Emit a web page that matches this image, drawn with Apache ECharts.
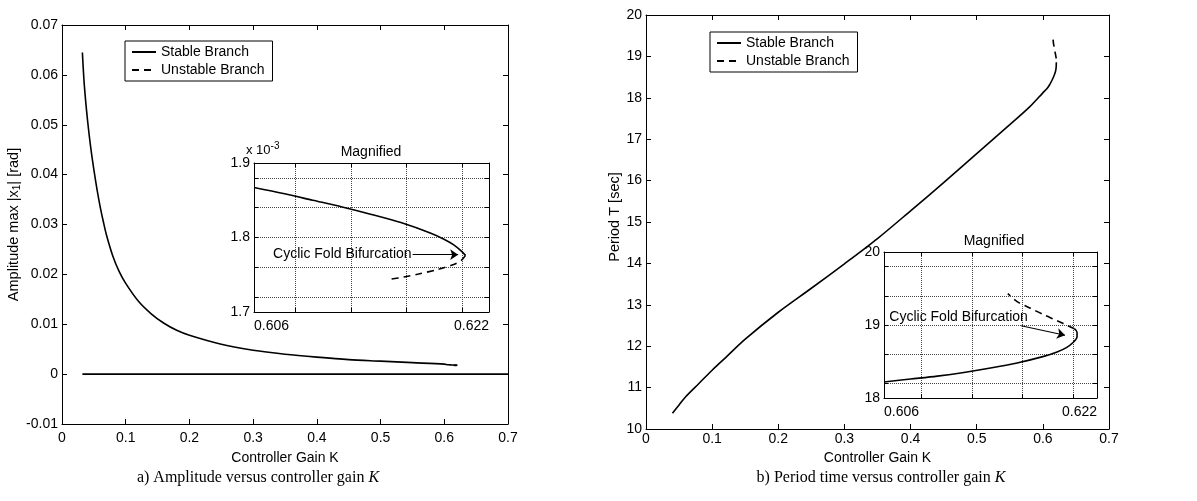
<!DOCTYPE html>
<html>
<head>
<meta charset="utf-8">
<title>Cyclic fold bifurcation: amplitude and period versus controller gain K</title>
<script src="https://cdn.jsdelivr.net/npm/echarts@6/dist/echarts.min.js"></script>
<style>
  html, body { margin: 0; padding: 0; background: #fff; }
  #chart { width: 1197px; height: 501px; }
</style>
</head>
<body>
<div id="chart"></div>
<script>
// a) amplitude max|x1| [rad] versus controller gain K
var ampK      = [0.032, 0.035, 0.04, 0.045, 0.05, 0.055, 0.06, 0.065, 0.07, 0.08, 0.09, 0.10, 0.12, 0.14, 0.16, 0.18, 0.20, 0.25, 0.30, 0.35, 0.40, 0.45, 0.50, 0.55, 0.60, 0.606, 0.612, 0.618, 0.6204];
var ampStable = [0.0645, 0.058, 0.051, 0.0455, 0.041, 0.037, 0.0335, 0.0305, 0.0278, 0.0236, 0.0205, 0.0182, 0.0146, 0.0121, 0.0102, 0.0088, 0.0078, 0.0060, 0.0048, 0.0040, 0.0034, 0.0029, 0.0026, 0.0023, 0.0020, 0.00187, 0.00184, 0.00180, 0.00177];
var trivialK   = [0.032, 0.7];
var trivialAmp = [0, 0];

// magnified amplitude near the fold, in units of 1e-3 rad
var magAmpK  = [0.606, 0.608, 0.610, 0.612, 0.614, 0.616, 0.618, 0.619, 0.6196, 0.6201, 0.6204];
var magAmp   = [1.867, 1.859, 1.850, 1.841, 1.831, 1.820, 1.806, 1.797, 1.790, 1.782, 1.776];
var magAmpUK = [0.6204, 0.6201, 0.6195, 0.6185, 0.6172, 0.6162, 0.6153];
var magAmpU  = [1.776, 1.769, 1.763, 1.757, 1.751, 1.747, 1.744];

// b) period T [sec] versus controller gain K
var perK      = [0.04, 0.05, 0.06, 0.08, 0.10, 0.12, 0.15, 0.20, 0.25, 0.30, 0.35, 0.40, 0.45, 0.50, 0.55, 0.58, 0.60, 0.606, 0.610, 0.614, 0.617, 0.619, 0.6200, 0.6204];
var perStable = [10.38, 10.58, 10.78, 11.10, 11.42, 11.72, 12.17, 12.82, 13.40, 13.99, 14.60, 15.27, 15.95, 16.65, 17.35, 17.78, 18.12, 18.22, 18.31, 18.43, 18.54, 18.63, 18.72, 18.86];

// magnified period near the fold
var magPerK  = [0.606, 0.608, 0.610, 0.612, 0.614, 0.616, 0.618, 0.619, 0.6197, 0.6202, 0.6205, 0.6205, 0.6203];
var magPer   = [18.22, 18.26, 18.30, 18.35, 18.41, 18.48, 18.57, 18.63, 18.69, 18.76, 18.84, 18.90, 18.95];
var magPerUK = [0.6203, 0.6198, 0.619, 0.618, 0.617, 0.616, 0.6153];
var magPerU  = [18.95, 18.99, 19.06, 19.14, 19.23, 19.32, 19.43];

// tick labels and dotted grid of the magnified boxes
var magKLabels   = [0.606, 0.622];
var magKGrid     = [0.6088, 0.6126, 0.6164, 0.6202];
var magAmpLabels = [1.7, 1.8, 1.9];
var magAmpGrid   = [1.72, 1.76, 1.80, 1.84, 1.88];
var magPerLabels = [18, 19, 20];
var magPerGrid   = [18.2, 18.6, 19.0, 19.4, 19.8];

// "Cyclic Fold Bifurcation" notes: text start, arrow start, arrow tip
var ampNote = [[0.6073, 1.777], [0.6168, 1.777], [0.6199, 1.777]];
var perNote = [[0.6064, 19.11], [0.6163, 18.99], [0.6196, 18.86]];

var font = '"Liberation Sans", Arial, Helvetica, sans-serif';
var serif = '"Liberation Serif", "Times New Roman", serif';

function pts(xs, ys, scale) {
  return xs.map(function (x, i) { return [x, ys[i] * (scale || 1)]; });
}

function mainAxis(grid, pos, min, max, step, labelMargin) {
  var shown = (pos === 'bottom' || pos === 'left');
  return {
    type: 'value', gridIndex: grid, position: pos,
    min: min, max: max, interval: step,
    axisLine: { show: true, onZero: false, lineStyle: { color: '#000', width: 1 } },
    axisTick: { show: true, inside: true, length: 5, lineStyle: { color: '#000' } },
    axisLabel: { show: shown, color: '#000', fontSize: 14, fontFamily: font, margin: labelMargin },
    splitLine: { show: false }
  };
}

function magAxis(grid, pos, min, max, labels, gridVals, digits, margin) {
  var shown = (pos === 'bottom' || pos === 'left');
  return {
    type: 'value', gridIndex: grid, position: pos, min: min, max: max,
    axisLine: { show: true, onZero: false, lineStyle: { color: '#000', width: 1 } },
    axisTick: { show: true, inside: true, length: 4, customValues: gridVals, lineStyle: { color: '#000' } },
    axisLabel: {
      show: shown, customValues: labels, color: '#000', fontSize: 14, fontFamily: font, margin: margin,
      formatter: function (v) { return (+v).toFixed(digits); }
    },
    splitLine: { show: shown, lineStyle: { color: '#444', type: 'dotted', width: 1 } }
  };
}

function line(name, data, xi, yi, dashed, extra) {
  var s = {
    name: name, type: 'line', data: data, xAxisIndex: xi, yAxisIndex: yi,
    symbol: 'none', color: '#000', z: 3, smooth: 0.3,
    lineStyle: { color: '#000', width: 1.6, type: dashed ? [7, 5] : 'solid' }
  };
  if (extra) { for (var k in extra) s[k] = extra[k]; }
  return s;
}

function note(pos) {
  return {
    markLine: {
      silent: true, symbol: ['none', 'arrow'], symbolSize: 8,
      label: { show: false },
      lineStyle: { color: '#000', width: 1.2, type: 'solid' },
      data: [[{ coord: pos[1] }, { coord: pos[2] }]]
    },
    markPoint: {
      silent: true, symbol: 'circle', symbolSize: 0,
      label: { show: true, position: 'right', distance: 0, formatter: 'Cyclic Fold Bifurcation',
               color: '#000', fontSize: 14, fontFamily: font },
      data: [{ coord: pos[0] }]
    }
  };
}

var chart = echarts.init(document.getElementById('chart'));

var xLeft = mainAxis(0, 'bottom', 0, 0.7, 0.1, 7);
xLeft.name = 'Controller Gain K';
xLeft.nameLocation = 'middle';
xLeft.nameGap = 27;
xLeft.nameTextStyle = { color: '#000', fontSize: 14, fontFamily: font };

var yLeft = mainAxis(0, 'left', -0.01, 0.07, 0.01, 4);
yLeft.name = 'Amplitude max |x{sub|1}| [rad]';
yLeft.nameLocation = 'middle';
yLeft.nameGap = 40;
yLeft.nameTextStyle = { color: '#000', fontSize: 14.5, fontFamily: font,
  rich: { sub: { fontSize: 10, fontFamily: font, color: '#000', padding: [7, 0, 0, 0] } } };

var xRight = mainAxis(2, 'bottom', 0, 0.7, 0.1, 3);
xRight.name = 'Controller Gain K';
xRight.nameLocation = 'middle';
xRight.nameGap = 20;
xRight.nameTextStyle = { color: '#000', fontSize: 14, fontFamily: font };

var yRight = mainAxis(2, 'left', 10, 20, 1, 4);
yRight.name = 'Period T [sec]';
yRight.nameLocation = 'middle';
yRight.nameGap = 22;
yRight.nameTextStyle = { color: '#000', fontSize: 14.5, fontFamily: font, padding: [0, 0, 0, 10] };

var magKA = magAxis(1, 'bottom', 0.606, 0.622, magKLabels, magKGrid, 3, 7);
magKA.axisLabel.alignMinLabel = 'left';
magKA.axisLabel.alignMaxLabel = 'right';
var magKP = magAxis(3, 'bottom', 0.606, 0.622, magKLabels, magKGrid, 3, 7);
magKP.axisLabel.alignMinLabel = 'left';
magKP.axisLabel.alignMaxLabel = 'right';

var legendBase = {
  orient: 'vertical', selectedMode: false,
  data: ['Stable Branch', 'Unstable Branch'],
  backgroundColor: '#fff', borderColor: '#000', borderWidth: 1, borderRadius: 0,
  padding: [4, 8, 4, 6], itemGap: 4, itemWidth: 24, itemHeight: 14,
  itemStyle: { opacity: 0 },
  textStyle: { color: '#000', fontSize: 14, fontFamily: font }
};

chart.setOption({
  animation: false,
  backgroundColor: '#fff',
  textStyle: { fontFamily: font },
  grid: [
    { left: 62, top: 25, width: 446, height: 399 },
    { left: 254, top: 163, width: 235, height: 149 },
    { left: 646, top: 15, width: 463, height: 414 },
    { left: 884, top: 252, width: 213, height: 146 }
  ],
  legend: [
    Object.assign({ left: 125, top: 41 }, legendBase),
    Object.assign({ left: 710, top: 32 }, legendBase)
  ],
  xAxis: [
    xLeft, mainAxis(0, 'top', 0, 0.7, 0.1, 7),
    magKA, magAxis(1, 'top', 0.606, 0.622, magKLabels, magKGrid, 3, 7),
    xRight, mainAxis(2, 'top', 0, 0.7, 0.1, 3),
    magKP, magAxis(3, 'top', 0.606, 0.622, magKLabels, magKGrid, 3, 7)
  ],
  yAxis: [
    yLeft, mainAxis(0, 'right', -0.01, 0.07, 0.01, 4),
    magAxis(1, 'left', 1.7, 1.9, magAmpLabels, magAmpGrid, 1, 4),
    magAxis(1, 'right', 1.7, 1.9, magAmpLabels, magAmpGrid, 1, 4),
    yRight, mainAxis(2, 'right', 10, 20, 1, 4),
    magAxis(3, 'left', 18, 20, magPerLabels, magPerGrid, 0, 4),
    magAxis(3, 'right', 18, 20, magPerLabels, magPerGrid, 0, 4)
  ],
  series: [
    line('Stable Branch', pts(ampK, ampStable), 0, 0, false),
    line('Stable Branch', pts(trivialK, trivialAmp), 0, 0, false),
    line('Unstable Branch', pts(magAmpUK, magAmpU, 1e-3), 0, 0, true),
    line('Stable Branch', pts(magAmpK, magAmp), 2, 2, false),
    line('Unstable Branch', pts(magAmpUK, magAmpU), 2, 2, true, note(ampNote)),
    line('Stable Branch', pts(perK, perStable), 4, 4, false),
    line('Unstable Branch', pts(magPerUK, magPerU), 4, 4, true),
    line('Stable Branch', pts(magPerK, magPer), 6, 6, false),
    line('Unstable Branch', pts(magPerUK, magPerU), 6, 6, true, note(perNote))
  ],
  graphic: [
    { type: 'text', style: { text: 'Magnified', x: 371, y: 152, align: 'center', verticalAlign: 'middle',
        fontSize: 14, fontFamily: font, fill: '#000' } },
    { type: 'text', style: { text: 'Magnified', x: 994, y: 241, align: 'center', verticalAlign: 'middle',
        fontSize: 14, fontFamily: font, fill: '#000' } },
    { type: 'text', style: { text: '{a|x 10}{b|-3}', x: 246, y: 150, align: 'left', verticalAlign: 'middle',
        fill: '#000', rich: { a: { fontSize: 13, fontFamily: font, fill: '#000' },
                              b: { fontSize: 10, fontFamily: font, fill: '#000', padding: [0, 0, 8, 0] } } } },
    { type: 'text', style: { text: 'a) Amplitude versus controller gain {i|K}', x: 258, y: 478,
        align: 'center', verticalAlign: 'middle', fontSize: 16, fontFamily: serif, fill: '#000',
        rich: { i: { fontSize: 16, fontFamily: serif, fontStyle: 'italic', fill: '#000' } } } },
    { type: 'text', style: { text: 'b) Period time versus controller gain {i|K}', x: 881, y: 478,
        align: 'center', verticalAlign: 'middle', fontSize: 16, fontFamily: serif, fill: '#000',
        rich: { i: { fontSize: 16, fontFamily: serif, fontStyle: 'italic', fill: '#000' } } } }
  ]
});
</script>
</body>
</html>
